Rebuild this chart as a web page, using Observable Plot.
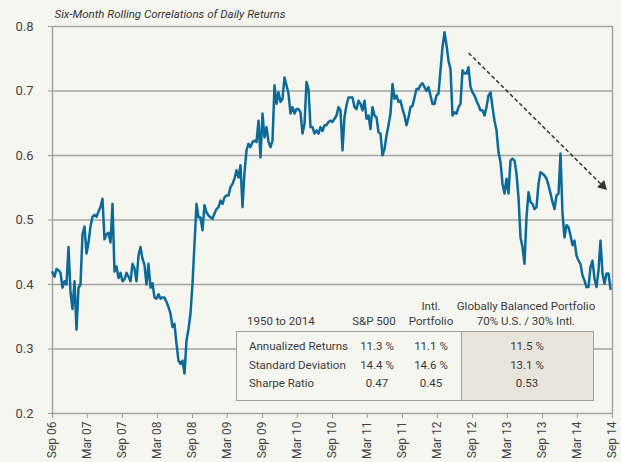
<!DOCTYPE html>
<html><head><meta charset="utf-8">
<script src="https://cdn.jsdelivr.net/npm/d3@7"></script>
<script src="https://cdn.jsdelivr.net/npm/@observablehq/plot@0.6"></script>
<style>
body{margin:0;background:#f6f6f1;font-family:Roboto,"DejaVu Sans",sans-serif;}
#wrap{position:relative;width:621px;height:462px;overflow:hidden;background:#f6f6f1;}
#wrap svg{position:absolute;left:0;top:0;}
.c{position:absolute;transform:translate(-50%,-50%);white-space:nowrap;font-size:11.5px;color:#3a3a3a;line-height:1;}
.l{position:absolute;transform:translate(0,-50%);white-space:nowrap;font-size:11.5px;color:#3a3a3a;line-height:1;}
.box{position:absolute;box-sizing:border-box;border:1.5px solid #a0a0a0;}
</style></head>
<body><div id="wrap"></div>
<script>
const title = "Six-Month Rolling Correlations of Daily Returns";
// Six-month rolling correlation, sampled at equal intervals from Sep 2006 to Aug 2014
const values = [
 .419,.412,.424,.422,.418,.395,.405,.400,.458,.388,.362,.405,.330,.395,.400,.478,.490,.448,.465,.490,
 .505,.508,.505,.513,.520,.533,.470,.478,.480,.465,.525,.420,.428,.410,.418,.405,.408,.418,.412,.405,
 .432,.425,.405,.445,.458,.440,.430,.400,.432,.395,.402,.380,.378,.385,.378,
 .380,.380,.373,.365,.355,.334,.339,.308,.282,.277,.282,.262,.313,.331,.355,.401,.463,.525,.504,.504,
 .484,.523,.512,.507,.504,.502,.510,.517,.520,.530,.525,.535,.538,.538,.551,.556,.564,.577,.566,.585,
 .520,.574,.608,.618,.613,.621,.623,.621,.654,.597,
 .665,.628,.644,.621,.613,.623,.709,.680,.698,.683,.688,.721,.709,.696,.665,.675,.665,.672,.672,.667,
 .634,.649,.714,.703,.644,.644,.634,.639,.634,.644,.638,.647,.647,.652,.654,.652,.657,.662,.675,.670,
 .608,.660,.678,.690,.690,.690,.675,.672,.685,.680,
 .670,.685,.657,.662,.641,.675,.662,.659,.636,.634,.600,.610,.631,.647,.665,.711,.688,.693,.683,.685,
 .672,.662,.647,.659,.675,.677,.690,.703,.703,.709,.712,.706,.700,.706,.693,.680,.680,.693,.696,.732,
 .768,.791,.771,.747,.734,.662,.667,.665,.675,.680,
 .732,.727,.727,.737,.706,.698,.693,.685,.678,.670,.670,.662,.675,.693,.698,.675,.654,.639,.605,.590,
 .556,.541,.564,.541,.592,.595,.592,.572,.535,.473,.458,.432,.504,.543,.528,.525,.517,.520,.556,.574,
 .572,.569,.564,.554,.541,.528,.517,.538,.541,.603,
 .510,.473,.492,.489,.476,.461,.468,.445,.437,.432,.414,.406,.396,.396,.427,.437,.409,.396,.422,.468,
 .417,.401,.417,.417,.393
];
const startDate = "2006-09-01", endDate = "2014-09-01";
const tickDates = ["2006-09-01","2007-03-01","2007-09-01","2008-03-01","2008-09-01","2009-03-01","2009-09-01","2010-03-01","2010-09-01","2011-03-01","2011-09-01","2012-03-01","2012-09-01","2013-03-01","2013-09-01","2014-03-01","2014-09-01"];
const tickLabels = ["Sep 06","Mar 07","Sep 07","Mar 08","Sep 08","Mar 09","Sep 09","Mar 10","Sep 10","Mar 11","Sep 11","Mar 12","Sep 12","Mar 13","Sep 13","Mar 14","Sep 14"];
const yTicks = [0.2,0.3,0.4,0.5,0.6,0.7,0.8];
const trendArrow = [{x1:"2012-08-11", y1:0.759, x2:"2014-07-12", y2:0.553}];

// table
const tablePeriod = "1950 to 2014";
const colHeads = [["S&P 500"],["Intl.","Portfolio"],["Globally Balanced Portfolio","70% U.S. / 30% Intl."]];
const rowLabels = ["Annualized Returns","Standard Deviation","Sharpe Ratio"];
const sp500 = ["11.3 %","14.4 %","0.47"];
const intl = ["11.1 %","14.6 %","0.45"];
const balanced = ["11.5 %","13.1 %","0.53"];

const parse = d3.utcParse("%Y-%m-%d");
const t0 = parse(startDate), t1 = parse(endDate);
const step = (t1 - t0) / 280;
const series = values.map((v, i) => ({date: new Date(+t0 + i * step), value: v}));
const ticks = tickDates.map(parse);
const arrows = trendArrow.map(d => ({...d, x1: parse(d.x1), x2: parse(d.x2)}));

const chart = Plot.plot({
  width: 621, height: 462,
  marginLeft: 52, marginRight: 9, marginTop: 26, marginBottom: 49,
  style: {background: "transparent", fontFamily: "Roboto, sans-serif", color: "#444", overflow: "visible"},
  x: {type: "utc", domain: [t0, t1]},
  y: {domain: [0.2, 0.8]},
  marks: [
    Plot.ruleY(yTicks, {stroke: "#a3a3a3", strokeWidth: 1.5}),
    Plot.ruleX([t0, t1], {stroke: "#a3a3a3", strokeWidth: 1.5}),
    Plot.axisY({ticks: yTicks, tickFormat: d3.format(".1f"), tickSize: 4, tickPadding: 15, fontSize: 13, stroke: "#999", fill: "#444", label: null}),
    Plot.axisX({ticks: ticks, tickFormat: d => tickLabels[ticks.findIndex(t => +t === +d)], tickRotate: -90, tickSize: 5, tickPadding: 3, fontSize: 12, stroke: "#999", fill: "#444", label: null}),
    Plot.lineY(series, {x: "date", y: "value", stroke: "#0b6a98", strokeWidth: 2.5, strokeLinejoin: "round"}),
    Plot.link(arrows, {x1: "x1", y1: "y1", x2: "x2", y2: "y2", stroke: "#333", strokeWidth: 1.5, strokeDasharray: "4,2.5"}),
    Plot.dot(arrows, {x: "x2", y: "y2", symbol: "triangle", r: 3.8, fill: "#333", stroke: "none", rotate: 135}),
    Plot.text([title], {frameAnchor: "top-left", dx: 2, dy: -12, lineAnchor: "middle", textAnchor: "start", fontStyle: "italic", fontSize: 11.5, fill: "#333"})
  ]
});
const wrap = document.getElementById("wrap");
wrap.appendChild(chart);

function add(cls, text, x, y) {
  const e = document.createElement("div");
  e.className = cls; e.textContent = text;
  e.style.left = x + "px"; e.style.top = y + "px";
  wrap.appendChild(e);
}
function box(x, y, w, h, bg) {
  const e = document.createElement("div");
  e.className = "box";
  Object.assign(e.style, {left: x + "px", top: y + "px", width: w + "px", height: h + "px", background: bg});
  wrap.appendChild(e);
}
box(236, 331, 358, 70, "#f6f6f1");
box(460.5, 331, 133.5, 70, "#e7e4db");
add("l", tablePeriod, 247, 322);
add("c", colHeads[0][0], 374, 322);
add("c", colHeads[1][0], 431, 307);
add("c", colHeads[1][1], 431, 322);
add("c", colHeads[2][0], 526, 307);
add("c", colHeads[2][1], 526, 322);
const rowY = [347, 366, 384];
rowLabels.forEach((r, i) => {
  add("l", r, 249, rowY[i]);
  add("c", sp500[i], 377, rowY[i]);
  add("c", intl[i], 431, rowY[i]);
  add("c", balanced[i], 527, rowY[i]);
});
</script></body></html>
